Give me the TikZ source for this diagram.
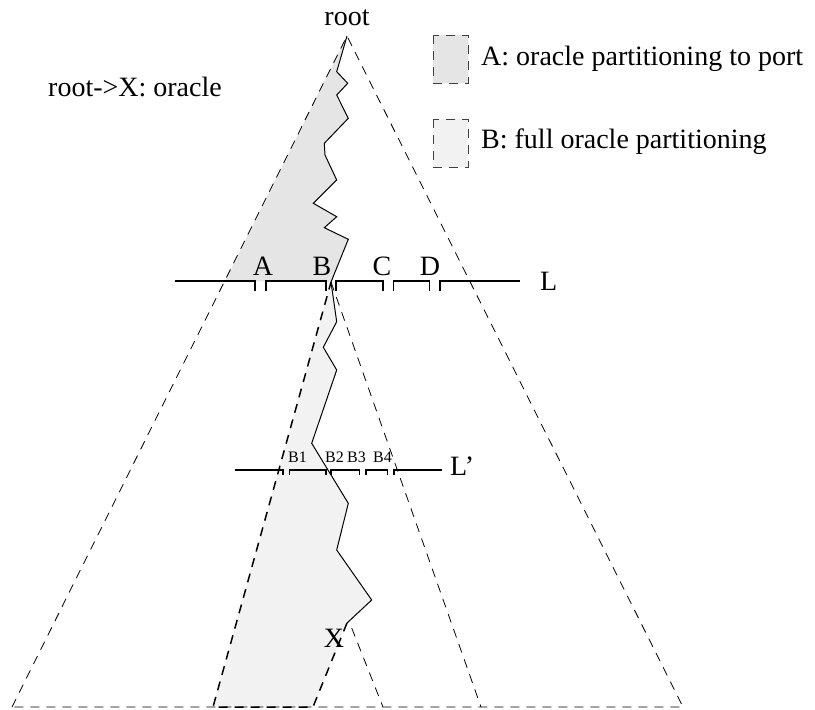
\documentclass[tikz,border=0pt]{standalone}
\usepackage{fontspec}
\setmainfont{Liberation Serif}
\usetikzlibrary{calc}
\begin{document}
\begin{tikzpicture}[x=1pt,y=-1pt,
  tri/.style={dash pattern=on 9pt off 7pt,line width=0.8pt},
  boldtri/.style={dash pattern=on 9pt off 7pt,line width=1.5pt},
  level/.style={line width=1.6pt},
  path/.style={line width=1pt},
  every node/.style={font=\fontsize{28}{30}\selectfont,inner sep=0pt,anchor=base}]
  \useasboundingbox (0,0) rectangle (815,710);
  \coordinate (root) at (347,36);
  \coordinate (BL) at (12,707);
  \coordinate (BR) at (683,707);
  \coordinate (Bt) at (331,282);
  \coordinate (BsL) at (213,707);
  \coordinate (BsR) at (481,707);
  \coordinate (Xt) at (347,623);
  \coordinate (XL) at (313,707);
  \coordinate (XR) at (383,707);
  \fill[gray!20] (root) -- (336.7,71.7) -- (347.7,83.3) -- (336.7,95) -- (348.3,118.3)
    -- (324.3,143.3) -- (325,155) -- (336.7,180) -- (313.3,203.3) -- (336.7,216.7)
    -- (324.3,227.7) -- (348.3,239.3) -- (Bt) -- (225,281) -- cycle;
  \fill[gray!10] (Bt) -- (336.7,321.7) -- (323.3,347.3) -- (336.7,370) -- (311.7,443.3)
    -- (348.3,503.3) -- (336.7,550) -- (371.7,600) -- (Xt) -- (XL) -- (BsL) -- cycle;
  \draw[tri] (BL) -- (root) -- (BR) -- cycle;
  \draw[tri] (Bt) -- (BsR);
  \draw[tri] (351.7,628) -- (XR);
  \draw[boldtri] (Xt) -- (XL) -- (BsL) -- (Bt);
  \draw[path] (root) -- (336.7,71.7) -- (347.7,83.3) -- (336.7,95) -- (348.3,118.3)
    -- (324.3,143.3) -- (325,155) -- (336.7,180) -- (313.3,203.3) -- (336.7,216.7)
    -- (324.3,227.7) -- (348.3,239.3) -- (Bt);
  \draw[path] (Bt) -- (336.7,321.7) -- (323.3,347.3) -- (336.7,370) -- (311.7,443.3)
    -- (348.3,503.3) -- (336.7,550) -- (371.7,600) -- (Xt);
  \draw[level] (175,281) -- (255,281) -- ++(0,10);
  \foreach \a/\b in {266/325.7,336/382.7,393.3/429.3}
    \draw[level] (\a,291) -- (\a,281) -- (\b,281) -- (\b,291);
  \draw[level] (440,291) -- (440,281) -- (520,281);
  \draw[level] (235,470) -- (282.7,470) -- ++(0,5);
  \foreach \a/\b in {289.3/326,330.7/359.3,366/387.3}
    \draw[level] (\a,475) -- (\a,470) -- (\b,470) -- (\b,475);
  \draw[level] (394,475) -- (394,470) -- (442,470);
  \draw[tri,draw=black!75,fill=gray!20] (433,35) rectangle (468,83);
  \draw[tri,draw=black!75,fill=gray!10] (433,119) rectangle (468,167);
  \node (lblroot) at (347,25) {root};
  \node[anchor=base west] (lbloracle) at (48,96) {root->X: oracle};
  \node[anchor=base west] (lglA) at (481,65) {A: oracle partitioning to port};
  \node[anchor=base west] (lglB) at (481,148) {B: full oracle partitioning};
  \node (lblA) at (263,275) {A};
  \node (lblB) at (322,275) {B};
  \node (lblC) at (382,275) {C};
  \node (lblD) at (430,275) {D};
  \node[anchor=base west] (lblL) at (540,290) {L};
  \node[anchor=base west] (lblLp) at (450,475) {L'};
  \node (lblX) at (334,647) {X};
  \foreach \n/\x in {1/288,2/325,3/347,4/373}
    \node[anchor=base west,font=\fontsize{16}{18}\selectfont] (lblB\n) at (\x,462) {B\n};
\end{tikzpicture}
\end{document}
